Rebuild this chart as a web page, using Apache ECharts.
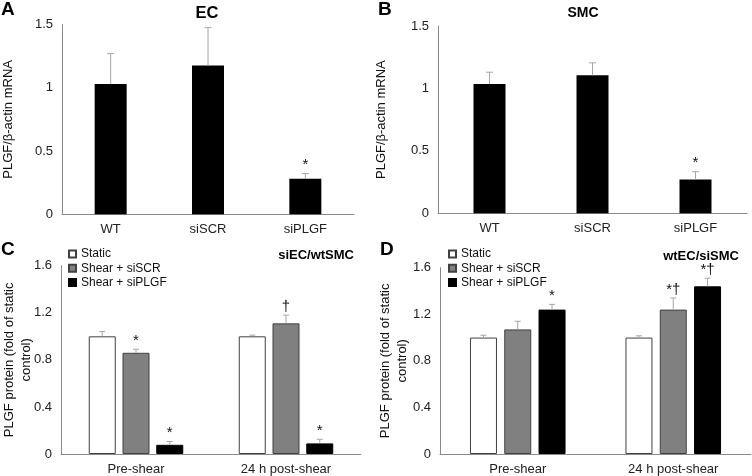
<!DOCTYPE html>
<html>
<head>
<meta charset="utf-8">
<script src="https://cdn.jsdelivr.net/npm/echarts@6/dist/echarts.min.js"></script>
<style>html,body{margin:0;padding:0;background:#fff}#c{width:752px;height:476px}</style>
</head>
<body>
<div id="c"></div>
<script>
// ---- data ----
const catsAB = ['WT', 'siSCR', 'siPLGF'];
const ecMean = [1.03, 1.175, 0.28];
const ecErrTop = [1.27, 1.475, 0.322];
const ecMarks = ['', '', '*'];
const smcMean = [1.035, 1.105, 0.27];
const smcErrTop = [1.13, 1.205, 0.333];
const smcMarks = ['', '', '*'];
const yTicksAB = [0, 0.5, 1, 1.5];

const catsCD = ['Pre-shear', '24 h post-shear'];
const groupNames = ['Static', 'Shear + siSCR', 'Shear + siPLGF'];
const cStatic = [1.0, 1.0];
const cStaticErr = [1.04, 1.01];
const cStaticMarks = ['', ''];
const cSCR = [0.86, 1.11];
const cSCRErr = [0.89, 1.18];
const cSCRMarks = ['*', '\u2020'];
const cPLGF = [0.078, 0.09];
const cPLGFErr = [0.106, 0.125];
const cPLGFMarks = ['*', '*'];
const dStatic = [1.0, 1.0];
const dStaticErr = [1.02, 1.015];
const dStaticMarks = ['', ''];
const dSCR = [1.07, 1.24];
const dSCRErr = [1.14, 1.34];
const dSCRMarks = ['', '*\u2020'];
const dPLGF = [1.24, 1.44];
const dPLGFErr = [1.285, 1.51];
const dPLGFMarks = ['*', '*\u2020'];
const yTicksCD = [0, 0.4, 0.8, 1.2, 1.6];

// ---- styling ----
const FONT = 'Arial, "Liberation Sans", sans-serif';
const AXIS_COLOR = '#8a8a8a';
const ERR_COLOR = '#a6a6a6';
const BORDER = '#404040';
const fills = ['#ffffff', '#808080', '#000000'];

function errSeries(gi, means, tops, marks, offsetPx, capHalf) {
  return {
    type: 'custom',
    xAxisIndex: gi, yAxisIndex: gi,
    silent: true,
    z: 5,
    data: means.map((m, i) => [i, m, tops[i]]),
    renderItem: function (params, api) {
      const cat = api.value(0);
      const b = api.coord([cat, api.value(1)]);
      const t = api.coord([cat, api.value(2)]);
      const x = b[0] + offsetPx;
      const mk = marks[params.dataIndex];
      const children = [
        { type: 'line', shape: { x1: x, y1: b[1], x2: x, y2: t[1] }, style: { stroke: ERR_COLOR, lineWidth: 1 } },
        { type: 'line', shape: { x1: x - capHalf, y1: t[1], x2: x + capHalf, y2: t[1] }, style: { stroke: ERR_COLOR, lineWidth: 1 } }
      ];
      if (mk) {
        children.push({
          type: 'text',
          style: { text: mk, x: x, y: t[1] - 1, align: 'center', verticalAlign: 'bottom',
                   fontSize: 15, fontFamily: FONT, fill: '#111' }
        });
      }
      return { type: 'group', children: children };
    }
  };
}

function yAxis(gi, ticks, name, nameGap, lineHeight) {
  return {
    gridIndex: gi, type: 'value',
    min: ticks[0], max: ticks[ticks.length - 1], interval: ticks[1] - ticks[0],
    name: name, nameLocation: 'middle', nameGap: nameGap, nameMoveOverlap: false,
    nameTextStyle: { fontSize: 13, fontFamily: FONT, color: '#111', lineHeight: lineHeight },
    axisLine: { show: true, lineStyle: { color: AXIS_COLOR, width: 1 } },
    axisTick: { show: false },
    splitLine: { show: false },
    axisLabel: { fontSize: 13, fontFamily: FONT, color: '#222', margin: 9 }
  };
}
function xAxis(gi, cats) {
  return {
    gridIndex: gi, type: 'category', data: cats,
    axisLine: { show: true, lineStyle: { color: AXIS_COLOR, width: 1 } },
    axisTick: { show: false },
    axisLabel: { fontSize: 13, fontFamily: FONT, color: '#222', margin: 9 }
  };
}

const series = [];
// A
series.push({ type: 'bar', xAxisIndex: 0, yAxisIndex: 0, data: ecMean, barWidth: 32,
  itemStyle: { color: '#000' }, silent: true });
series.push(errSeries(0, ecMean, ecErrTop, ecMarks, 0, 3.5));
// B
series.push({ type: 'bar', xAxisIndex: 1, yAxisIndex: 1, data: smcMean, barWidth: 32,
  itemStyle: { color: '#000' }, silent: true });
series.push(errSeries(1, smcMean, smcErrTop, smcMarks, 0, 3.5));

// C and D
const cVals = [cStatic, cSCR, cPLGF];
const cErr = [cStaticErr, cSCRErr, cPLGFErr];
const cMarks = [cStaticMarks, cSCRMarks, cPLGFMarks];
const dVals = [dStatic, dSCR, dPLGF];
const dErr = [dStaticErr, dSCRErr, dPLGFErr];
const dMarks = [dStaticMarks, dSCRMarks, dPLGFMarks];
const bwCD = 27;
[[2, cVals, cErr, cMarks, 0.25], [3, dVals, dErr, dMarks, 0.27]].forEach(([gi, vals, errs, marks, gap]) => {
  vals.forEach((v, k) => {
    series.push({
      type: 'bar', name: groupNames[k], xAxisIndex: gi, yAxisIndex: gi, data: v,
      barWidth: bwCD, barGap: (gap * 100) + '%',
      itemStyle: { color: fills[k], borderColor: k === 2 ? '#000' : BORDER, borderWidth: 1 },
      silent: true
    });
  });
  const step = bwCD * (1 + gap);
  vals.forEach((v, k) => {
    series.push(errSeries(gi, v, errs[k], marks[k], (k - 1) * step, 3));
  });
});

const legendCommon = {
  orient: 'vertical', itemWidth: 7, itemHeight: 7, itemGap: 0.3, padding: 0,
  icon: 'rect',
  textStyle: { fontSize: 12, fontFamily: FONT, color: '#111', lineHeight: 14 },
  data: groupNames, selectedMode: false
};

const tStyle = (size) => ({ fontSize: size, fontWeight: 'bold', fontFamily: FONT, color: '#000' });
const option = {
  animation: false,
  backgroundColor: '#fff',
  title: [
    { text: 'A', left: 1, top: 0, padding: 0, textStyle: tStyle(19) },
    { text: 'B', left: 378, top: 0, padding: 0, textStyle: tStyle(19) },
    { text: 'C', left: 1, top: 240, padding: 0, textStyle: tStyle(19) },
    { text: 'D', left: 380, top: 240, padding: 0, textStyle: tStyle(19) },
    { text: 'EC', left: 207, top: 5, padding: 0, textAlign: 'center', textStyle: tStyle(16.5) },
    { text: 'SMC', left: 583, top: 6, padding: 0, textAlign: 'center', textStyle: tStyle(14) },
    { text: 'siEC/wtSMC', right: 398, top: 249, padding: 0, textStyle: tStyle(13) },
    { text: 'wtEC/siSMC', right: 13, top: 250, padding: 0, textStyle: tStyle(13) }
  ],
  legend: [
    Object.assign({}, legendCommon, { left: 68, top: 247 }),
    Object.assign({}, legendCommon, { left: 448, top: 247 })
  ],
  grid: [
    { left: 59, right: 398, top: 24.5, bottom: 261.7 },
    { left: 438, right: 5, top: 26, bottom: 262.7 },
    { left: 58, right: 391, top: 265.7, bottom: 22 },
    { left: 440, right: 1, top: 267.7, bottom: 21.7 }
  ],
  xAxis: [xAxis(0, catsAB), xAxis(1, catsAB), xAxis(2, catsCD), xAxis(3, catsCD)],
  yAxis: [
    yAxis(0, yTicksAB, 'PLGF/\u03b2-actin mRNA', 46, 15),
    yAxis(1, yTicksAB, 'PLGF/\u03b2-actin mRNA', 49, 15),
    yAxis(2, yTicksCD, 'PLGF protein (fold of static\ncontrol)', 26, 17),
    yAxis(3, yTicksCD, 'PLGF protein (fold of static\ncontrol)', 29, 17)
  ],
  series: series
};

const chart = echarts.init(document.getElementById('c'), null, { renderer: 'canvas' });
chart.setOption(option);
</script>
</body>
</html>
